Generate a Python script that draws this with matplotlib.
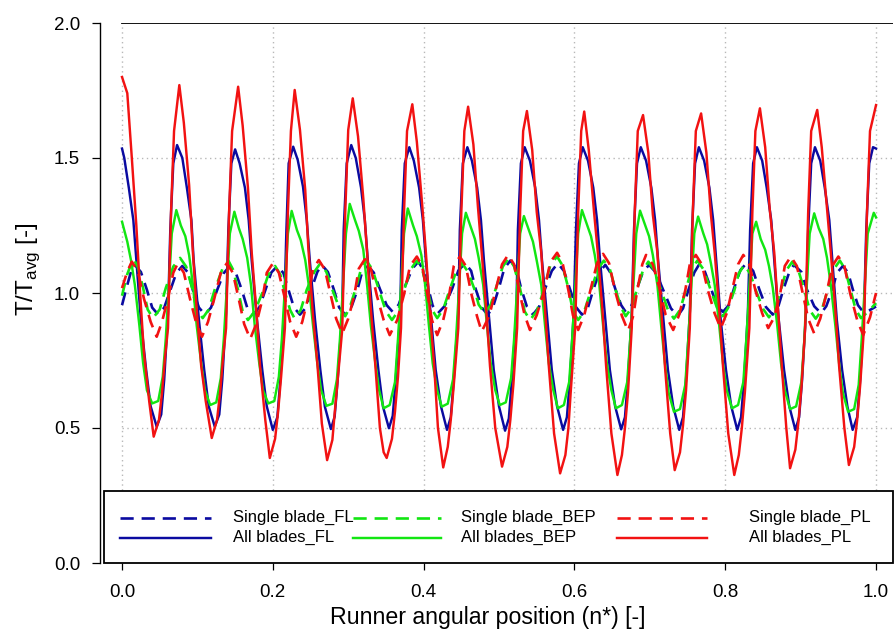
import matplotlib
matplotlib.use('Agg')
import matplotlib.pyplot as plt
from matplotlib.lines import Line2D
from matplotlib.patches import Rectangle

plt.rcParams['font.family'] = ['Liberation Sans', 'DejaVu Sans']
plt.rcParams['mathtext.fontset'] = 'custom'
plt.rcParams['mathtext.rm'] = 'Liberation Sans'

# ---- data (x = runner angular position n*, y = T/Tavg) ----

# Single blade, FL (blue dashed)
single_fl_x = [
    0.000, 0.007, 0.012,
    0.017, 0.025, 0.033, 0.040, 0.048, 0.056, 0.064, 0.072,
    0.080, 0.088, 0.094, 0.102, 0.110, 0.118, 0.126, 0.135,
    0.143, 0.151, 0.159, 0.166, 0.174, 0.182, 0.190, 0.198,
    0.206, 0.214, 0.221, 0.228, 0.236, 0.244, 0.251, 0.259,
    0.265, 0.273, 0.281, 0.288, 0.296, 0.304, 0.312, 0.318,
    0.326, 0.334, 0.342, 0.351, 0.359, 0.367, 0.375, 0.385,
    0.393, 0.399, 0.406, 0.412, 0.419, 0.428, 0.438, 0.446,
    0.455, 0.463, 0.469, 0.477, 0.485, 0.492, 0.500, 0.507,
    0.515, 0.523, 0.529, 0.537, 0.545, 0.553, 0.561, 0.570,
    0.578, 0.586, 0.594, 0.602, 0.610, 0.618, 0.625, 0.633,
    0.641, 0.647, 0.654, 0.662, 0.668, 0.676, 0.683, 0.691,
    0.699, 0.708, 0.718, 0.728, 0.737, 0.744, 0.751, 0.759,
    0.765, 0.773, 0.781, 0.789, 0.797, 0.805, 0.812, 0.820,
    0.828, 0.837, 0.845, 0.854, 0.863, 0.870, 0.877, 0.885,
    0.891, 0.901, 0.908, 0.918, 0.927, 0.934, 0.942, 0.948,
    0.956, 0.963, 0.969, 0.976, 0.983, 0.992, 1.000]
single_fl_y = [
    0.955, 1.03, 1.08,
    1.104, 1.078, 1.012, 0.946, 0.920, 0.946, 1.010, 1.074,
    1.100, 1.074, 1.010, 0.946, 0.920, 0.946, 1.010, 1.074,
    1.100, 1.074, 1.010, 0.946, 0.920, 0.946, 1.010, 1.076,
    1.100, 1.074, 1.010, 0.946, 0.920, 0.946, 1.012, 1.078,
    1.104, 1.078, 1.012, 0.946, 0.920, 0.946, 1.010, 1.074,
    1.100, 1.075, 1.015, 0.955, 0.930, 0.957, 1.023, 1.090,
    1.116, 1.088, 1.020, 0.953, 0.925, 0.952, 1.017, 1.083,
    1.110, 1.082, 1.015, 0.947, 0.919, 0.948, 1.020, 1.091,
    1.120, 1.091, 1.020, 0.949, 0.920, 0.948, 1.015, 1.082,
    1.110, 1.082, 1.015, 0.948, 0.920, 0.947, 1.012, 1.078,
    1.104, 1.079, 1.017, 0.955, 0.930, 0.955, 1.017, 1.079,
    1.104, 1.076, 1.010, 0.943, 0.915, 0.943, 1.010, 1.076,
    1.104, 1.079, 1.017, 0.955, 0.930, 0.956, 1.020, 1.084,
    1.110, 1.082, 1.015, 0.948, 0.920, 0.947, 1.012, 1.078,
    1.104, 1.078, 1.015, 0.951, 0.925, 0.951, 1.012, 1.074,
    1.100, 1.075, 1.015, 0.955, 0.930, 0.937, 0.950]

# All blades, FL (blue solid)
all_fl_x = [
    0.000, 0.003, 0.009, 0.015, 0.019, 0.025, 0.032, 0.038, 0.046, 0.052, 0.056, 0.061, 0.064, 0.068,
    0.073, 0.080, 0.086, 0.092, 0.095, 0.102, 0.109, 0.115, 0.123, 0.129, 0.133, 0.138, 0.141, 0.145,
    0.150, 0.156, 0.163, 0.168, 0.172, 0.179, 0.186, 0.192, 0.200, 0.206, 0.210, 0.215, 0.218, 0.221,
    0.227, 0.233, 0.240, 0.245, 0.249, 0.256, 0.263, 0.269, 0.277, 0.282, 0.286, 0.292, 0.294, 0.298,
    0.304, 0.310, 0.317, 0.322, 0.326, 0.333, 0.340, 0.346, 0.354, 0.359, 0.363, 0.369, 0.371, 0.375,
    0.381, 0.387, 0.394, 0.399, 0.403, 0.410, 0.416, 0.423, 0.431, 0.436, 0.440, 0.446, 0.448, 0.452,
    0.458, 0.464, 0.471, 0.476, 0.480, 0.487, 0.493, 0.500, 0.508, 0.513, 0.517, 0.523, 0.525, 0.529,
    0.534, 0.541, 0.548, 0.553, 0.557, 0.564, 0.570, 0.577, 0.585, 0.590, 0.594, 0.599, 0.602, 0.606,
    0.611, 0.618, 0.625, 0.630, 0.634, 0.641, 0.647, 0.654, 0.662, 0.667, 0.671, 0.676, 0.679, 0.683,
    0.688, 0.695, 0.702, 0.707, 0.711, 0.718, 0.724, 0.731, 0.739, 0.744, 0.748, 0.753, 0.756, 0.760,
    0.765, 0.772, 0.779, 0.784, 0.788, 0.794, 0.801, 0.808, 0.816, 0.821, 0.825, 0.830, 0.833, 0.837,
    0.842, 0.849, 0.855, 0.861, 0.865, 0.871, 0.878, 0.885, 0.893, 0.898, 0.902, 0.907, 0.910, 0.914,
    0.919, 0.926, 0.932, 0.938, 0.942, 0.948, 0.955, 0.962, 0.969, 0.975, 0.979, 0.984, 0.987, 0.991,
    0.996, 1.000]
all_fl_y = [
    1.535, 1.50, 1.39, 1.27, 1.12, 0.90, 0.715, 0.58, 0.505, 0.550, 0.68, 0.925, 1.233, 1.48,
    1.548, 1.50, 1.39, 1.27, 1.12, 0.90, 0.715, 0.58, 0.505, 0.550, 0.68, 0.925, 1.233, 1.48,
    1.532, 1.48, 1.39, 1.27, 1.12, 0.90, 0.715, 0.58, 0.493, 0.540, 0.68, 0.925, 1.233, 1.48,
    1.542, 1.493, 1.394, 1.27, 1.122, 0.90, 0.715, 0.579, 0.496, 0.542, 0.678, 0.925, 1.233, 1.48,
    1.548, 1.50, 1.39, 1.27, 1.12, 0.90, 0.715, 0.58, 0.499, 0.545, 0.68, 0.925, 1.233, 1.48,
    1.540, 1.49, 1.39, 1.27, 1.12, 0.90, 0.715, 0.58, 0.493, 0.540, 0.68, 0.925, 1.233, 1.48,
    1.540, 1.49, 1.39, 1.27, 1.12, 0.90, 0.715, 0.58, 0.490, 0.535, 0.68, 0.925, 1.233, 1.48,
    1.540, 1.49, 1.39, 1.27, 1.12, 0.90, 0.715, 0.58, 0.493, 0.540, 0.68, 0.925, 1.233, 1.48,
    1.540, 1.49, 1.39, 1.27, 1.12, 0.90, 0.715, 0.58, 0.495, 0.540, 0.68, 0.925, 1.233, 1.48,
    1.540, 1.49, 1.39, 1.27, 1.12, 0.90, 0.715, 0.58, 0.493, 0.540, 0.68, 0.925, 1.233, 1.48,
    1.540, 1.49, 1.39, 1.27, 1.12, 0.90, 0.715, 0.58, 0.493, 0.540, 0.68, 0.925, 1.233, 1.48,
    1.540, 1.49, 1.39, 1.27, 1.12, 0.90, 0.715, 0.58, 0.493, 0.540, 0.68, 0.925, 1.233, 1.48,
    1.540, 1.49, 1.39, 1.27, 1.12, 0.90, 0.715, 0.58, 0.493, 0.540, 0.68, 0.925, 1.233, 1.48,
    1.540, 1.535]

# Single blade, BEP (green dashed)
single_bep_x = [
    0.000, 0.007,
    0.015, 0.021, 0.028, 0.034, 0.041, 0.050, 0.058, 0.068,
    0.077, 0.085, 0.093, 0.099, 0.107, 0.115, 0.123, 0.133,
    0.141, 0.147, 0.154, 0.160, 0.167, 0.176, 0.186, 0.194,
    0.203, 0.210, 0.216, 0.223, 0.229, 0.237, 0.245, 0.255,
    0.263, 0.271, 0.279, 0.288, 0.296, 0.302, 0.310, 0.317,
    0.324, 0.332, 0.341, 0.350, 0.358, 0.366, 0.374, 0.383,
    0.391, 0.398, 0.405, 0.411, 0.418, 0.426, 0.434, 0.443,
    0.451, 0.459, 0.467, 0.473, 0.481, 0.489, 0.497, 0.505,
    0.513, 0.520, 0.528, 0.534, 0.541, 0.550, 0.560, 0.568,
    0.577, 0.584, 0.592, 0.598, 0.605, 0.613, 0.622, 0.631,
    0.639, 0.647, 0.654, 0.662, 0.668, 0.676, 0.683, 0.691,
    0.698, 0.706, 0.715, 0.724, 0.732, 0.740, 0.748, 0.755,
    0.763, 0.771, 0.780, 0.789, 0.797, 0.804, 0.812, 0.818,
    0.825, 0.833, 0.841, 0.850, 0.858, 0.866, 0.874, 0.881,
    0.889, 0.897, 0.905, 0.912, 0.920, 0.928, 0.936, 0.944,
    0.952, 0.959, 0.966, 0.973, 0.980, 0.991, 1.000]
single_bep_y = [
    0.990, 1.070,
    1.128, 1.096, 1.018, 0.939, 0.907, 0.939, 1.018, 1.098,
    1.130, 1.098, 1.018, 0.939, 0.907, 0.939, 1.013, 1.088,
    1.120, 1.088, 1.010, 0.932, 0.900, 0.932, 1.000, 1.068,
    1.100, 1.068, 1.003, 0.937, 0.905, 0.937, 1.012, 1.078,
    1.110, 1.078, 1.012, 0.946, 0.914, 0.946, 1.017, 1.088,
    1.120, 1.088, 1.010, 0.932, 0.900, 0.932, 1.010, 1.088,
    1.120, 1.088, 1.013, 0.939, 0.907, 0.939, 1.008, 1.078,
    1.110, 1.078, 1.017, 0.957, 0.925, 0.957, 1.027, 1.098,
    1.130, 1.098, 1.015, 0.932, 0.900, 0.932, 1.017, 1.103,
    1.135, 1.103, 1.017, 0.932, 0.900, 0.932, 1.010, 1.088,
    1.120, 1.088, 1.017, 0.946, 0.914, 0.946, 1.015, 1.084,
    1.116, 1.084, 1.010, 0.937, 0.905, 0.937, 1.012, 1.088,
    1.120, 1.088, 1.017, 0.946, 0.914, 0.946, 1.009, 1.072,
    1.104, 1.072, 1.007, 0.942, 0.910, 0.942, 1.013, 1.084,
    1.116, 1.084, 1.010, 0.937, 0.905, 0.937, 1.012, 1.088,
    1.120, 1.088, 1.013, 0.939, 0.907, 0.935, 0.963]

# All blades, BEP (green solid)
all_bep_x = [
    0.000, 0.007, 0.012, 0.017, 0.023, 0.028, 0.033, 0.040, 0.048, 0.054, 0.058, 0.062, 0.066,
    0.072, 0.078, 0.084, 0.089, 0.094, 0.099, 0.105, 0.110, 0.117, 0.125, 0.131, 0.135, 0.139, 0.143,
    0.149, 0.155, 0.160, 0.166, 0.171, 0.176, 0.182, 0.187, 0.194, 0.202, 0.208, 0.212, 0.216, 0.220,
    0.225, 0.232, 0.237, 0.243, 0.248, 0.253, 0.259, 0.264, 0.271, 0.279, 0.285, 0.289, 0.293, 0.297,
    0.302, 0.309, 0.314, 0.320, 0.325, 0.330, 0.336, 0.341, 0.347, 0.355, 0.362, 0.366, 0.370, 0.374,
    0.379, 0.386, 0.391, 0.397, 0.402, 0.407, 0.412, 0.418, 0.424, 0.432, 0.439, 0.443, 0.447, 0.451,
    0.456, 0.463, 0.468, 0.473, 0.479, 0.484, 0.489, 0.495, 0.501, 0.509, 0.516, 0.520, 0.524, 0.528,
    0.533, 0.540, 0.545, 0.550, 0.556, 0.561, 0.566, 0.572, 0.578, 0.586, 0.593, 0.597, 0.601, 0.605,
    0.610, 0.617, 0.622, 0.627, 0.633, 0.638, 0.643, 0.649, 0.655, 0.663, 0.670, 0.674, 0.678, 0.682,
    0.687, 0.694, 0.699, 0.704, 0.710, 0.715, 0.720, 0.725, 0.732, 0.740, 0.747, 0.751, 0.755, 0.759,
    0.764, 0.771, 0.776, 0.781, 0.786, 0.792, 0.797, 0.802, 0.809, 0.817, 0.824, 0.828, 0.832, 0.836,
    0.841, 0.847, 0.853, 0.858, 0.863, 0.869, 0.874, 0.879, 0.886, 0.894, 0.901, 0.905, 0.908, 0.912,
    0.918, 0.924, 0.930, 0.935, 0.940, 0.946, 0.951, 0.956, 0.963, 0.971, 0.977, 0.981, 0.985, 0.989,
    0.997, 1.000]
all_bep_y = [
    1.264, 1.19, 1.12, 1.03, 0.88, 0.74, 0.64, 0.591, 0.600, 0.690, 0.83, 1.02, 1.22,
    1.307, 1.25, 1.21, 1.14, 1.03, 0.88, 0.74, 0.64, 0.585, 0.595, 0.685, 0.83, 1.02, 1.22,
    1.301, 1.24, 1.20, 1.13, 1.03, 0.88, 0.74, 0.64, 0.591, 0.600, 0.690, 0.83, 1.02, 1.22,
    1.304, 1.233, 1.196, 1.122, 1.023, 0.888, 0.74, 0.641, 0.582, 0.590, 0.680, 0.83, 1.02, 1.22,
    1.330, 1.27, 1.23, 1.16, 1.03, 0.88, 0.74, 0.64, 0.573, 0.585, 0.670, 0.83, 1.02, 1.22,
    1.313, 1.25, 1.21, 1.14, 1.03, 0.88, 0.74, 0.64, 0.579, 0.590, 0.680, 0.83, 1.02, 1.22,
    1.297, 1.24, 1.20, 1.13, 1.03, 0.88, 0.74, 0.64, 0.585, 0.595, 0.685, 0.83, 1.02, 1.22,
    1.285, 1.23, 1.19, 1.12, 1.03, 0.88, 0.74, 0.64, 0.573, 0.585, 0.670, 0.83, 1.02, 1.22,
    1.307, 1.25, 1.21, 1.14, 1.03, 0.88, 0.74, 0.64, 0.573, 0.585, 0.670, 0.83, 1.02, 1.22,
    1.305, 1.25, 1.21, 1.14, 1.03, 0.88, 0.74, 0.63, 0.560, 0.570, 0.660, 0.83, 1.02, 1.22,
    1.283, 1.22, 1.18, 1.11, 1.03, 0.88, 0.74, 0.64, 0.573, 0.585, 0.670, 0.83, 1.02, 1.22,
    1.264, 1.20, 1.16, 1.10, 1.02, 0.88, 0.74, 0.64, 0.570, 0.580, 0.670, 0.83, 1.02, 1.22,
    1.295, 1.24, 1.20, 1.13, 1.03, 0.88, 0.74, 0.63, 0.560, 0.570, 0.660, 0.83, 1.02, 1.22,
    1.297, 1.280]

# Single blade, PL (red dashed)
single_pl_x = [
    0.000, 0.007,
    0.013, 0.021, 0.029, 0.038, 0.046, 0.053, 0.061, 0.068,
    0.074, 0.082, 0.090, 0.098, 0.106, 0.114, 0.122, 0.131,
    0.139, 0.147, 0.155, 0.162, 0.170, 0.178, 0.186, 0.192,
    0.200, 0.208, 0.216, 0.223, 0.231, 0.239, 0.247, 0.253,
    0.261, 0.269, 0.277, 0.284, 0.292, 0.300, 0.308, 0.314,
    0.322, 0.330, 0.338, 0.347, 0.355, 0.365, 0.374, 0.382,
    0.391, 0.398, 0.405, 0.411, 0.418, 0.426, 0.434, 0.440,
    0.448, 0.456, 0.463, 0.471, 0.477, 0.487, 0.495, 0.504,
    0.512, 0.520, 0.527, 0.534, 0.541, 0.550, 0.560, 0.568,
    0.577, 0.584, 0.592, 0.598, 0.605, 0.613, 0.621, 0.630,
    0.638, 0.646, 0.654, 0.663, 0.671, 0.678, 0.683, 0.690,
    0.695, 0.704, 0.714, 0.721, 0.731, 0.739, 0.747, 0.753,
    0.761, 0.769, 0.777, 0.786, 0.794, 0.802, 0.809, 0.817,
    0.824, 0.832, 0.840, 0.849, 0.857, 0.865, 0.873, 0.879,
    0.887, 0.895, 0.903, 0.910, 0.918, 0.926, 0.934, 0.942,
    0.950, 0.958, 0.966, 0.975, 0.983, 0.992, 1.000]
single_pl_y = [
    1.018, 1.080,
    1.116, 1.080, 0.980, 0.893, 0.838, 0.893, 0.980, 1.075,
    1.110, 1.075, 0.980, 0.893, 0.838, 0.893, 0.975, 1.075,
    1.110, 1.075, 0.975, 0.885, 0.830, 0.885, 0.975, 1.075,
    1.110, 1.075, 0.980, 0.893, 0.838, 0.893, 0.985, 1.087,
    1.122, 1.087, 0.990, 0.905, 0.850, 0.905, 0.990, 1.090,
    1.125, 1.090, 0.990, 0.900, 0.844, 0.900, 0.995, 1.100,
    1.135, 1.100, 0.995, 0.900, 0.844, 0.900, 0.995, 1.100,
    1.135, 1.100, 1.000, 0.912, 0.857, 0.915, 1.005, 1.106,
    1.141, 1.106, 1.005, 0.918, 0.863, 0.918, 1.010, 1.114,
    1.149, 1.114, 1.010, 0.918, 0.863, 0.918, 1.008, 1.110,
    1.145, 1.110, 1.007, 0.915, 0.860, 0.915, 1.005, 1.106,
    1.141, 1.106, 1.005, 0.918, 0.863, 0.920, 1.010, 1.106,
    1.141, 1.106, 1.010, 0.924, 0.869, 0.925, 1.010, 1.106,
    1.141, 1.106, 1.010, 0.925, 0.870, 0.910, 1.000, 1.100,
    1.135, 1.100, 0.995, 0.905, 0.850, 0.905, 0.995, 1.100,
    1.135, 1.100, 0.995, 0.900, 0.844, 0.910, 1.000]

# All blades, PL (red solid)
all_pl_x = [
    0.000, 0.007, 0.013, 0.019, 0.024, 0.029, 0.036, 0.042, 0.049, 0.053, 0.057, 0.061, 0.065, 0.069,
    0.076, 0.082, 0.089, 0.094, 0.099, 0.105, 0.111, 0.119, 0.126, 0.130, 0.134, 0.138, 0.142, 0.146,
    0.154, 0.160, 0.167, 0.172, 0.178, 0.183, 0.190, 0.196, 0.203, 0.207, 0.211, 0.216, 0.220, 0.224,
    0.229, 0.236, 0.243, 0.247, 0.253, 0.259, 0.265, 0.272, 0.279, 0.282, 0.286, 0.292, 0.296, 0.300,
    0.306, 0.313, 0.320, 0.325, 0.330, 0.336, 0.342, 0.347, 0.351, 0.358, 0.362, 0.366, 0.370, 0.374, 0.378,
    0.385, 0.391, 0.398, 0.403, 0.408, 0.414, 0.419, 0.426, 0.432, 0.436, 0.440, 0.446, 0.450, 0.454,
    0.459, 0.466, 0.472, 0.477, 0.483, 0.488, 0.495, 0.504, 0.511, 0.515, 0.519, 0.524, 0.528, 0.532,
    0.537, 0.544, 0.550, 0.556, 0.561, 0.566, 0.573, 0.581, 0.588, 0.592, 0.595, 0.601, 0.605, 0.609,
    0.613, 0.619, 0.626, 0.631, 0.637, 0.642, 0.649, 0.657, 0.663, 0.667, 0.671, 0.676, 0.680, 0.684,
    0.691, 0.698, 0.704, 0.710, 0.715, 0.720, 0.727, 0.733, 0.740, 0.744, 0.748, 0.753, 0.757, 0.761,
    0.768, 0.775, 0.781, 0.786, 0.792, 0.797, 0.804, 0.812, 0.818, 0.822, 0.826, 0.832, 0.836, 0.840,
    0.846, 0.853, 0.859, 0.865, 0.870, 0.875, 0.881, 0.886, 0.893, 0.897, 0.901, 0.906, 0.910, 0.914,
    0.922, 0.928, 0.935, 0.940, 0.946, 0.951, 0.958, 0.964, 0.971, 0.975, 0.979, 0.984, 0.988, 0.992, 1.000]
all_pl_y = [
    1.800, 1.74, 1.50, 1.25, 1.00, 0.78, 0.60, 0.468, 0.53, 0.63, 0.76, 0.87, 1.30, 1.60,
    1.770, 1.63, 1.40, 1.15, 0.94, 0.73, 0.60, 0.463, 0.53, 0.63, 0.76, 0.87, 1.30, 1.60,
    1.764, 1.62, 1.39, 1.15, 0.94, 0.73, 0.53, 0.389, 0.46, 0.56, 0.69, 0.87, 1.30, 1.60,
    1.752, 1.604, 1.381, 1.171, 0.925, 0.74, 0.517, 0.381, 0.456, 0.554, 0.678, 0.863, 1.295, 1.604,
    1.721, 1.58, 1.35, 1.15, 0.94, 0.73, 0.50, 0.41, 0.389, 0.46, 0.56, 0.69, 0.87, 1.30, 1.60,
    1.699, 1.56, 1.33, 1.15, 0.94, 0.73, 0.50, 0.354, 0.43, 0.53, 0.66, 0.87, 1.30, 1.60,
    1.690, 1.55, 1.32, 1.15, 0.94, 0.73, 0.50, 0.357, 0.43, 0.53, 0.66, 0.87, 1.30, 1.60,
    1.674, 1.53, 1.30, 1.15, 0.94, 0.73, 0.48, 0.332, 0.40, 0.50, 0.63, 0.87, 1.30, 1.60,
    1.672, 1.53, 1.30, 1.15, 0.94, 0.73, 0.48, 0.326, 0.40, 0.50, 0.63, 0.87, 1.30, 1.60,
    1.659, 1.52, 1.29, 1.15, 0.94, 0.73, 0.48, 0.344, 0.41, 0.51, 0.64, 0.87, 1.30, 1.60,
    1.665, 1.52, 1.29, 1.15, 0.94, 0.73, 0.48, 0.326, 0.40, 0.50, 0.63, 0.87, 1.30, 1.60,
    1.684, 1.54, 1.31, 1.15, 0.94, 0.73, 0.50, 0.351, 0.42, 0.52, 0.65, 0.87, 1.30, 1.60,
    1.678, 1.54, 1.31, 1.15, 0.94, 0.73, 0.50, 0.363, 0.43, 0.53, 0.66, 0.87, 1.30, 1.60, 1.696]

x_ticks = [0.0, 0.2, 0.4, 0.6, 0.8, 1.0]
y_ticks = [0.0, 0.5, 1.0, 1.5, 2.0]

BLUE = '#0a0aa0'
GREEN = '#12e612'
RED = '#f21212'
DASH = (0, (5, 3))

fig = plt.figure(figsize=(8.96, 6.37), dpi=100)
ax = fig.add_axes([104 / 896, 74 / 637, 789 / 896, 540 / 637])

series = [
    (single_fl_x, single_fl_y, BLUE, DASH, 'Single blade_FL'),
    (all_fl_x, all_fl_y, BLUE, '-', 'All blades_FL'),
    (single_bep_x, single_bep_y, GREEN, DASH, 'Single blade_BEP'),
    (all_bep_x, all_bep_y, GREEN, '-', 'All blades_BEP'),
    (single_pl_x, single_pl_y, RED, DASH, 'Single blade_PL'),
    (all_pl_x, all_pl_y, RED, '-', 'All blades_PL'),
]
for xs, ys, col, ls, lab in series:
    lw = 1.9 if ls == DASH else 1.75
    ax.plot(xs, ys, color=col, ls=ls, lw=lw, zorder=3)

ax.set_xlim(-0.0239, 1.0225)
ax.set_ylim(0, 2)

# dotted grid, top rule
grid_kw = dict(color='#b8b8b8', lw=1.0, ls=(0, (1, 2.5)), zorder=1)
ax.vlines(x_ticks, 0, 2, **grid_kw)
ax.hlines(y_ticks[1:-1], 0, 1.0225, **grid_kw)
ax.axhline(2.0, xmin=0.0228, xmax=1.0, color='black', lw=1.3, zorder=4)

ax.spines[['top', 'right', 'bottom']].set_visible(False)
ax.spines['left'].set_position(('outward', 2.9))
ax.spines['left'].set_linewidth(1.0)

ax.set_xticks(x_ticks)
ax.set_xticklabels([f'{v:.1f}' for v in x_ticks])
ax.set_yticks(y_ticks)
ax.set_yticklabels([f'{v:.1f}' for v in y_ticks])
ax.tick_params(axis='x', direction='out', length=5, width=0.9, pad=10, labelsize=13.5)
ax.tick_params(axis='y', direction='out', length=5.8, width=0.9, pad=8.5, labelsize=13.5)

ax.set_xlabel('Runner angular position (n*) [-]', fontsize=16.7)
ax.xaxis.set_label_coords(0.487, -0.08)
ax.set_ylabel(r'T/T$_{\mathrm{avg}}$ [-]', fontsize=17.5)
ax.yaxis.set_label_coords(-0.078, 0.543)

# legend box drawn like the original (three fixed columns)
ax.add_patch(Rectangle((0, 0), 1, 0.1333, transform=ax.transAxes, facecolor='white',
                       edgecolor='black', lw=1.3, zorder=5, clip_on=False))
col_handle = [(0.0203, 0.1356), (0.3156, 0.4271), (0.6502, 0.7643)]
col_text = [0.1635, 0.4525, 0.8175]
row_y = [0.0839, 0.0469]
for i, (xs, ys, col, ls, lab) in enumerate(series):
    c, r = divmod(i, 2)
    lw = 1.9 if ls == DASH else 1.75
    ax.add_line(Line2D(col_handle[c], [row_y[r]] * 2, transform=ax.transAxes, color=col,
                       ls=ls, lw=lw, zorder=6, clip_on=False))
    ax.text(col_text[c], row_y[r], lab, transform=ax.transAxes, va='center', ha='left',
            fontsize=12, zorder=6)

fig.savefig('out.png', dpi=100)
